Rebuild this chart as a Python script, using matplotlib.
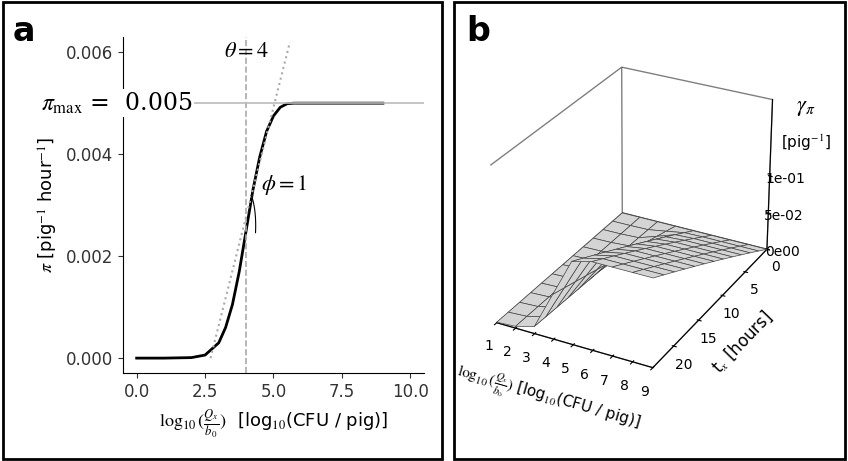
import matplotlib.pyplot as plt
import numpy as np
from matplotlib.patches import Rectangle

plt.rcParams['mathtext.fontset'] = 'stix'

# panel a: curve
curve_x = [0.0, 1.0, 2.0, 2.5, 3.0, 3.25, 3.5, 3.75, 4.0, 4.25, 4.5, 4.75, 5.0, 5.25, 5.5, 5.75, 6.0, 7.0, 9.0]
curve_y = [0.0, 0.0, 0.00001, 0.00006, 0.00030, 0.00060, 0.00105, 0.00170, 0.00250, 0.00330, 0.00395, 0.00445, 0.00475, 0.00492, 0.00499, 0.005, 0.005, 0.005, 0.005]
tangent_x = [2.7, 5.6]
tangent_y = [0.0, 0.0062]
theta = 4
pi_max = 0.005

# panel b: pig transmission rate per log10 dose, and exposure times
dose = [1, 2, 3, 4, 5, 6, 7, 8, 9]
pi_dose = [0.00003, 0.0001, 0.0004, 0.0025, 0.0047, 0.005, 0.005, 0.005, 0.005]
hours = list(range(0, 25, 2))

fig = plt.figure(figsize=(8.48, 4.61), dpi=100)
fig.patches.append(Rectangle((0.003, 0.005), 0.518, 0.99, transform=fig.transFigure,
                             fill=False, lw=2, color='black'))
fig.patches.append(Rectangle((0.535, 0.005), 0.462, 0.99, transform=fig.transFigure,
                             fill=False, lw=2, color='black'))

ax = fig.add_axes([0.145, 0.19, 0.355, 0.73])
ax.plot(curve_x, curve_y, color='black', lw=2)
ax.plot(tangent_x, tangent_y, color='#aaaaaa', ls=':', lw=1.5)
ax.axvline(theta, color='#aaaaaa', ls='--', lw=1.2)
ax.axhline(pi_max, color='#bbbbbb', lw=1.2)
ax.set_xlim(-0.5, 10.5)
ax.set_ylim(-0.0003, 0.0063)
ax.set_xticks([0, 2.5, 5, 7.5, 10])
ax.set_xticklabels(['0.0', '2.5', '5.0', '7.5', '10.0'])
ax.set_yticks([0, 0.002, 0.004, 0.006])
ax.set_yticklabels(['0.000', '0.002', '0.004', '0.006'])
ax.tick_params(labelsize=12, colors='#333333')
for s in ['top', 'right']:
    ax.spines[s].set_visible(False)
ax.text(-0.02, pi_max, r'$\pi_{\mathrm{max}}$ =  0.005', fontsize=17, family='serif',
        ha='center', va='center', transform=ax.get_yaxis_transform(),
        bbox=dict(fc='white', ec='none', pad=1))
ax.text(theta, 0.0059, r'$\theta = 4$', fontsize=16, family='serif', ha='center')
ax.text(4.55, 0.0033, r'$\phi = 1$', fontsize=16, family='serif')
t = np.linspace(-0.2, 1.0, 20)
ax.plot(4.0 + 0.35 * np.cos(t), 0.0026 + 0.00035 * np.sin(t) * 2, color='black', lw=0.8)
ax.set_ylabel(r'$\pi$ [pig$^{-1}$ hour$^{-1}$]', fontsize=13)
ax.set_xlabel(r'$\log_{10}(\frac{Q_x}{b_0})$  [log$_{10}$(CFU / pig)]', fontsize=13)
fig.text(0.015, 0.91, 'a', fontsize=24, weight='bold')

# panel b (y runs from the front, t = 24, to the back, t = 0)
X, T = np.meshgrid(dose, hours)
P = np.tile(pi_dose, (len(hours), 1))
G = 1 - np.exp(-P * T)
bx = fig.add_axes([0.54, 0.07, 0.41, 0.93], projection='3d')
bx.plot_surface(X, 24 - T, G, color='#d4d4d4', edgecolor='#444444', lw=0.5,
                shade=False)
bx.view_init(elev=28, azim=-62)
bx.set_box_aspect((1, 1.5, 1.0))
bx.set_xlim(1, 9)
bx.set_ylim(0, 24)
bx.set_zlim(0, 0.2)
bx.set_xticks(dose)
bx.set_yticks([24 - v for v in [0, 5, 10, 15, 20]])
bx.set_yticklabels(['0', '5', '10', '15', '20'])
bx.set_zticks([0, 0.05, 0.1])
bx.set_zticklabels(['0e00', '5e-02', '1e-01'])
bx.tick_params(labelsize=10, pad=0)
bx.grid(False)
for a in [bx.xaxis, bx.yaxis, bx.zaxis]:
    a.pane.fill = False
    a.pane.set_edgecolor('black')
bx.set_xlabel(r'$\log_{10}(\frac{Q_x}{b_0})$ [log$_{10}$(CFU / pig)]', fontsize=11, labelpad=4)
bx.set_ylabel(r't$_x$ [hours]', fontsize=12)
fig.text(0.95, 0.76, r'$\gamma_\pi$', fontsize=16, ha='center')
fig.text(0.95, 0.68, r'[pig$^{-1}$]', fontsize=11, ha='center')
fig.text(0.55, 0.91, 'b', fontsize=24, weight='bold')

fig.savefig('out.png', dpi=100)
